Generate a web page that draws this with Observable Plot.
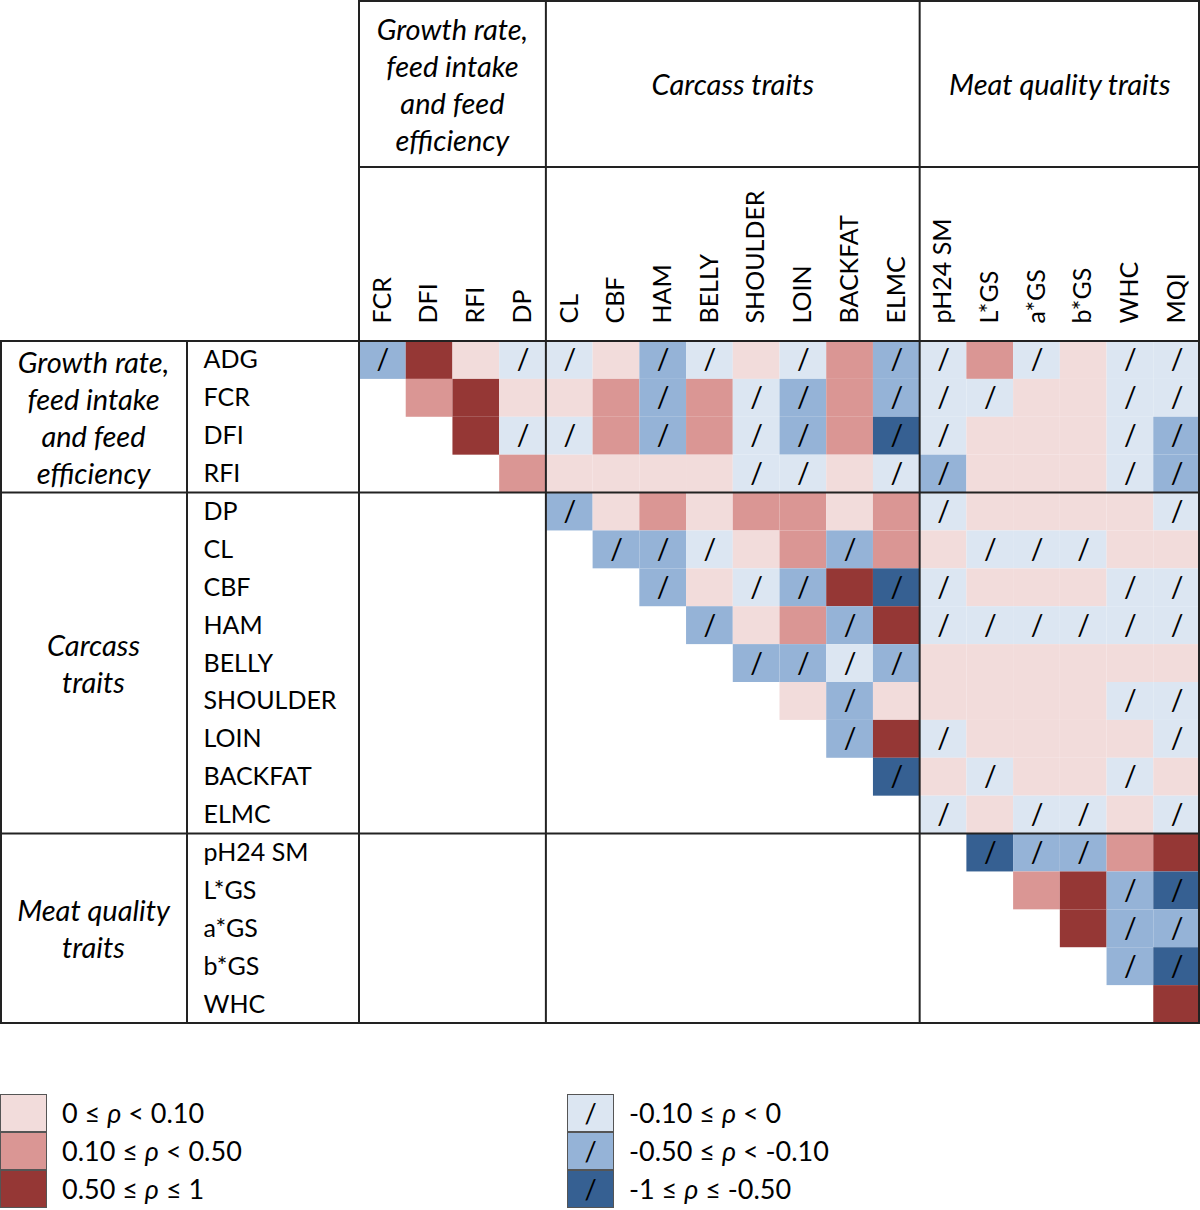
<!DOCTYPE html>
<html>
<head>
<meta charset="utf-8">
<script src="https://cdn.jsdelivr.net/npm/d3@7"></script>
<script src="https://cdn.jsdelivr.net/npm/@observablehq/plot@0.6"></script>
<style>
  html, body { margin: 0; background: #fff; font-family: Lato, sans-serif; overflow: hidden; }
  #legend { position: relative; width: 1200px; height: 116px; margin-top: 68px; }
  .lg { position: absolute; top: 0; }
  .item { position: relative; height: 38px; }
  .sw { position: absolute; left: 0; top: 0; width: 45px; height: 36px; border: 1px solid #555; text-align: center; font-size: 27px; line-height: 36px; color: #000; }
  .lab { position: absolute; left: 62px; top: 0; height: 38px; line-height: 38px; font-size: 27px; color: #000; white-space: nowrap; }
  .lab i { font-style: italic; }
</style>
</head>
<body>
<div id="chart"></div>
<div id="legend"></div>
<script>
// ---------- data ----------
const cols = ["FCR","DFI","RFI","DP","CL","CBF","HAM","BELLY","SHOULDER","LOIN","BACKFAT","ELMC","pH24 SM","L*GS","a*GS","b*GS","WHC","MQI"];
const rows = ["ADG","FCR","DFI","RFI","DP","CL","CBF","HAM","BELLY","SHOULDER","LOIN","BACKFAT","ELMC","pH24 SM","L*GS","a*GS","b*GS","WHC"];

// correlation class per cell (upper triangle, row i starts at column i)
// 1: 0≤ρ<0.10, 2: 0.10≤ρ<0.50, 3: 0.50≤ρ≤1, -1: -0.10≤ρ<0, -2: -0.50≤ρ<-0.10, -3: -1≤ρ≤-0.50
const rowClasses = [
  [-2,3,1,-1,-1,1,-2,-1,1,-1,2,-2,-1,2,-1,1,-1,-1],
  [2,3,1,1,2,-2,2,-1,-2,2,-2,-1,-1,1,1,-1,-1],
  [3,-1,-1,2,-2,2,-1,-2,2,-3,-1,1,1,1,-1,-2],
  [2,1,1,1,1,-1,-1,1,-1,-2,1,1,1,-1,-2],
  [-2,1,2,1,2,2,1,2,-1,1,1,1,1,-1],
  [-2,-2,-1,1,2,-2,2,1,-1,-1,-1,1,1],
  [-2,1,-1,-2,3,-3,-1,1,1,1,-1,-1],
  [-2,1,2,-2,3,-1,-1,-1,-1,-1,-1],
  [-2,-2,-1,-2,1,1,1,1,1,1],
  [1,-2,1,1,1,1,1,-1,-1],
  [-2,3,-1,1,1,1,1,-1],
  [-3,1,-1,1,1,-1,1],
  [-1,1,-1,-1,1,-1],
  [-3,-2,-2,2,3],
  [2,3,-2,-3],
  [3,-2,-2],
  [-2,-3],
  [3]
];

const colGroupStarts = ["FCR","CL","pH24 SM"];
const colGroupLabels = [["Growth rate,","feed intake","and feed","efficiency"],["Carcass traits"],["Meat quality traits"]];
const rowGroupStarts = ["ADG","DP","pH24 SM"];
const rowGroupLabels = [["Growth rate,","feed intake","and feed","efficiency"],["Carcass","traits"],["Meat quality","traits"]];

const classDomain = [-3,-2,-1,1,2,3];
const classColors = ["#366092","#95b3d7","#dce6f2","#f2dcdb","#da9694","#953735"];

const legendPos = [{c:1,label:"0 ≤ <i>ρ</i> < 0.10"},{c:2,label:"0.10 ≤ <i>ρ</i> < 0.50"},{c:3,label:"0.50 ≤ <i>ρ</i> ≤ 1"}];
const legendNeg = [{c:-1,label:"-0.10 ≤ <i>ρ</i> < 0"},{c:-2,label:"-0.50 ≤ <i>ρ</i> < -0.10"},{c:-3,label:"-1 ≤ <i>ρ</i> ≤ -0.50"}];

// ---------- build table ----------
const cells = [];
rowClasses.forEach((vals, i) => vals.forEach((v, j) => cells.push({row: rows[i], col: cols[i + j], cls: v})));

// layout constants (not data)
const headerDivY = 167;
const labelDivX = 187;
const lineH = 37;
const lineColor = "#222";

function frameMark(index, scales, values, dims) {
  const x = scales.x, y = scales.y;
  const bw = x(cols[1]) - x(cols[0]);
  const bh = y(rows[1]) - y(rows[0]);
  const left = x(cols[0]), right = x(cols[cols.length - 1]) + bw;
  const top = y(rows[0]), bottom = y(rows[rows.length - 1]) + bh;
  const g = d3.create("svg:g");
  const line = (x1, y1, x2, y2) => g.append("line").attr("x1", x1).attr("y1", y1).attr("x2", x2).attr("y2", y2)
    .attr("stroke", lineColor).attr("stroke-width", 2);
  // verticals
  colGroupStarts.forEach(c => line(x(c), 0, x(c), bottom));
  line(right - 1, 0, right - 1, bottom);
  line(labelDivX, top, labelDivX, bottom);
  line(1, top, 1, bottom);
  // horizontals
  line(left, 1, right, 1);
  line(left, headerDivY, right, headerDivY);
  rowGroupStarts.forEach(r => line(0, y(r), right, y(r)));
  line(0, bottom, right, bottom);
  // group labels
  const txt = (cx, cy, lines) => {
    lines.forEach((s, i) => {
      g.append("text").attr("x", cx).attr("y", cy + (i - (lines.length - 1) / 2) * lineH)
        .attr("text-anchor", "middle").attr("dominant-baseline", "central")
        .attr("font-style", "italic").attr("font-size", 29).attr("fill", "#000").text(s);
    });
  };
  colGroupStarts.forEach((c, k) => {
    const x0 = x(c), x1 = k + 1 < colGroupStarts.length ? x(colGroupStarts[k + 1]) : right;
    txt((x0 + x1) / 2, headerDivY / 2, colGroupLabels[k]);
  });
  rowGroupStarts.forEach((r, k) => {
    const y0 = y(r), y1 = k + 1 < rowGroupStarts.length ? y(rowGroupStarts[k + 1]) : bottom;
    txt(labelDivX / 2, (y0 + y1) / 2, rowGroupLabels[k]);
  });
  return g.node();
}

const chart = Plot.plot({
  width: 1200,
  height: 1026,
  marginLeft: 359,
  marginTop: 341,
  marginRight: 0,
  marginBottom: 3,
  style: {fontFamily: "Lato, sans-serif", fontSize: "25px", background: "#fff", color: "#000"},
  x: {domain: cols, axis: null, padding: 0, round: false},
  y: {domain: rows, axis: null, padding: 0, round: false},
  color: {type: "ordinal", domain: classDomain, range: classColors},
  marks: [
    Plot.cell(cells, {x: "col", y: "row", fill: "cls", inset: 0}),
    Plot.text(cells.filter(d => d.cls < 0), {x: "col", y: "row", text: () => "/", fontSize: 28, fill: "#000"}),
    Plot.text(cols, {x: d => d, frameAnchor: "top", dx: -10, dy: -18, rotate: -90, textAnchor: "start", fontSize: 25, fill: "#000"}),
    Plot.text(rows, {y: d => d, frameAnchor: "left", dx: -156, textAnchor: "start", fontSize: 25, fill: "#000"}),
    frameMark
  ]
});
document.getElementById("chart").appendChild(chart);

// ---------- legend ----------
const legend = document.getElementById("legend");
const colorOf = c => classColors[classDomain.indexOf(c)];
[[legendPos, 0], [legendNeg, 567]].forEach(([items, lx]) => {
  const box = document.createElement("div");
  box.className = "lg";
  box.style.left = lx + "px";
  items.forEach(it => {
    const row = document.createElement("div");
    row.className = "item";
    row.innerHTML = `<div class="sw" style="background:${colorOf(it.c)}">${it.c < 0 ? "/" : ""}</div><div class="lab">${it.label}</div>`;
    box.appendChild(row);
  });
  legend.appendChild(box);
});
</script>
</body>
</html>
